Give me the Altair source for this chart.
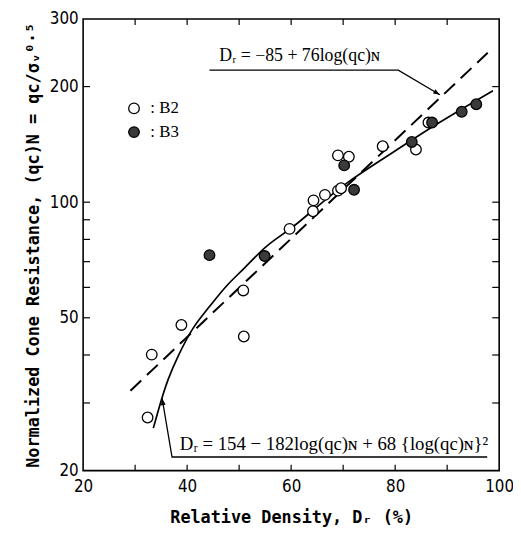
import altair as alt
import pandas as pd

# ---- data ----
b2_dr = [32.4, 33.2, 38.9, 50.9, 50.8, 59.7, 64.2, 64.3, 66.5, 69.0, 69.6, 69.0, 71.1, 77.6, 84.0, 86.4]
b2_qc = [27.5, 40.1, 47.9, 44.7, 58.9, 85.2, 94.7, 101.1, 104.5, 107.2, 108.7, 132.4, 131.3, 139.9, 137.1, 161.2]
b3_dr = [44.3, 54.9, 72.1, 70.2, 83.2, 87.1, 92.8, 95.6]
b3_qc = [72.8, 72.4, 107.7, 124.7, 143.5, 161.2, 172.0, 179.9]

curve_dr = [33.5, 35.1, 36.3, 38.2, 41.1, 44.0, 47.7, 50.9, 55.3, 59.8, 64.2, 70.5, 80.0, 87.6, 97.8, 98.8]
curve_qc = [25.8, 30.8, 34.6, 39.7, 47.4, 52.8, 61.2, 66.9, 77.6, 84.7, 95.3, 112.6, 135.8, 159.0, 191.6, 195.0]

dash_dr = [29.1, 97.8]
dash_qc = [32.3, 245.0]

top_lead_dr = [44.3, 80.6, 88.6]
top_lead_qc = [220.7, 220.7, 190.4]
bot_lead_dr = [97.7, 37.1, 35.2]
bot_lead_qc = [21.7, 21.7, 30.8]

top_text = ["Dᵣ = −85 + 76log(qc)ɴ"]
top_text_dr = [46.2]
top_text_qc = [232.8]
bot_text = ["Dᵣ = 154 − 182log(qc)ɴ + 68 {log(qc)ɴ}²"]
bot_text_dr = [38.6]
bot_text_qc = [22.6]

x_labels = [20, 40, 60, 80, 100]
x_minor = [30, 40, 50, 60, 70, 80, 90]
y_labels = [20, 50, 100, 200, 300]
y_minor = [30, 40, 50, 60, 70, 80, 90, 100, 200]

W, H = 421, 457
TICK = 6

xs = alt.Scale(domain=[20, 100], nice=False, zero=False)
ys = alt.Scale(type="log", domain=[20, 300], nice=False)
xaxis = alt.Axis(values=x_labels, title="Relative Density,  Dᵣ (%)", labelPadding=8, titlePadding=16,
                 labelFlush=False)
yaxis = alt.Axis(values=y_labels, title="Normalized Cone Resistance,  (qc)N = qc/σᵥ⁰·⁵",
                 labelPadding=5, titlePadding=7, labelFlush=False)

def X(field="x"):
    return alt.X(f"{field}:Q", scale=xs, axis=xaxis)

def Y(field="y"):
    return alt.Y(f"{field}:Q", scale=ys, axis=yaxis)

pts = pd.DataFrame({"x": b2_dr + b3_dr, "y": b2_qc + b3_qc,
                    "series": ["B2"] * len(b2_dr) + ["B3"] * len(b3_dr)})
curve = pd.DataFrame({"x": curve_dr, "y": curve_qc})
dash = pd.DataFrame({"x": dash_dr, "y": dash_qc})
top_lead = pd.DataFrame({"x": top_lead_dr, "y": top_lead_qc, "o": range(3)})
bot_lead = pd.DataFrame({"x": bot_lead_dr, "y": bot_lead_qc, "o": range(3)})
top_ann = pd.DataFrame({"x": top_text_dr, "y": top_text_qc, "t": top_text})
bot_ann = pd.DataFrame({"x": bot_text_dr, "y": bot_text_qc, "t": bot_text})
xt = pd.DataFrame({"x": x_minor})
yt = pd.DataFrame({"y": y_minor})

arrow_path = "M0,0L-3,-1.1L-3,1.1Z"
serif = "Liberation Serif, DejaVu Serif, serif"

layers = [
    alt.Chart(xt).mark_rule(color="black", strokeWidth=1.2).encode(x=X(), y=alt.value(H), y2=alt.value(H - TICK)),
    alt.Chart(xt).mark_rule(color="black", strokeWidth=1.2).encode(x=X(), y=alt.value(0), y2=alt.value(TICK)),
    alt.Chart(yt).mark_rule(color="black", strokeWidth=1.2).encode(y=Y(), x=alt.value(0), x2=alt.value(TICK + 1)),
    alt.Chart(yt).mark_rule(color="black", strokeWidth=1.2).encode(y=Y(), x=alt.value(W - TICK - 1), x2=alt.value(W)),
    alt.Chart(dash).mark_line(color="black", strokeWidth=2, strokeDash=[15, 8]).encode(x=X(), y=Y()),
    alt.Chart(curve).mark_line(color="black", strokeWidth=1.7, interpolate="basis").encode(x=X(), y=Y()),
    alt.Chart(top_lead).mark_line(color="black", strokeWidth=1.3).encode(x=X(), y=Y(), order="o:Q"),
    alt.Chart(bot_lead).mark_line(color="black", strokeWidth=1.3).encode(x=X(), y=Y(), order="o:Q"),
    alt.Chart(top_lead.tail(1)).mark_point(shape=arrow_path, filled=True, color="black", size=20, angle=30.8, opacity=1).encode(x=X(), y=Y()),
    alt.Chart(bot_lead.tail(1)).mark_point(shape=arrow_path, filled=True, color="black", size=20, angle=260.4, opacity=1).encode(x=X(), y=Y()),
    alt.Chart(top_ann).mark_text(align="left", baseline="alphabetic", font=serif,
                                 fontSize=18, color="black").encode(x=X(), y=Y(), text="t:N"),
    alt.Chart(bot_ann).mark_text(align="left", baseline="alphabetic", font=serif,
                                 fontSize=19, color="black").encode(x=X(), y=Y(), text="t:N"),
    alt.Chart(pts).mark_point(shape="circle", filled=True, size=115, stroke="black", strokeWidth=1.3, opacity=1).encode(
        x=X(), y=Y(),
        fill=alt.Fill("series:N", scale=alt.Scale(domain=["B2", "B3"], range=["white", "#3a3a3a"]),
                      legend=alt.Legend(title=None, orient="none", legendX=43, legendY=82,
                                        labelExpr="': ' + datum.label",
                                        labelFont=serif, labelFontSize=17,
                                        labelColor="black", labelOffset=8,
                                        symbolType="circle", symbolSize=115, symbolStrokeColor="black",
                                        symbolStrokeWidth=1.3, rowPadding=6, padding=0)),
    ),
]

chart = alt.layer(*layers).properties(
    width=W, height=H,
    autosize=alt.AutoSizeParams(type="none"),
    padding={"left": 76, "top": 8, "right": 14, "bottom": 56},
).configure_view(stroke="black", strokeWidth=1.6).configure_axis(
    grid=False, ticks=False, tickSize=0, domain=False,
    labelFont="Liberation Sans Narrow, DejaVu Sans Condensed, Roboto, sans-serif",
    labelFontSize=17, labelColor="black",
    titleFont="DejaVu Sans Mono", titleFontSize=17, titleFontWeight="bold", titleColor="black",
)

chart.save("out.html", embed_options={"renderer": "svg", "actions": False})
